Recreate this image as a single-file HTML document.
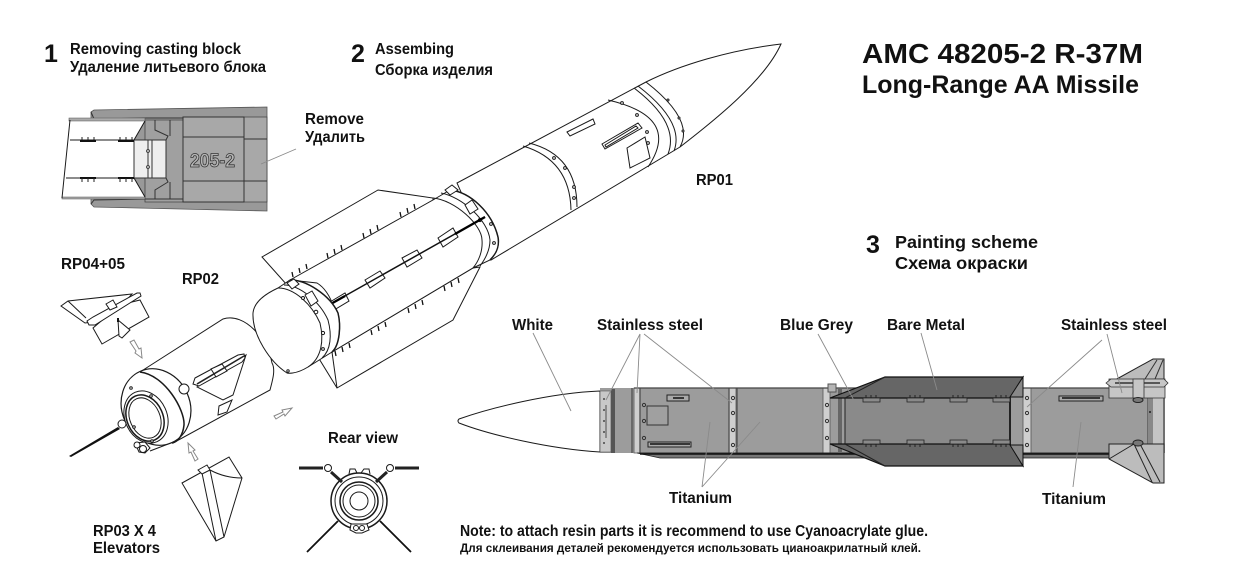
<!DOCTYPE html>
<html><head><meta charset="utf-8"><style>
html,body{margin:0;padding:0;background:#fff;width:1241px;height:584px;overflow:hidden}
svg{display:block}
text{font-family:"Liberation Sans",sans-serif;font-weight:bold;fill:#111}
.l{fill:none;stroke:#1a1a1a;stroke-width:1}
.t{fill:none;stroke:#1a1a1a;stroke-width:1.5}
.w{fill:#fff;stroke:#1a1a1a;stroke-width:1}
.g{fill:none;stroke:#8a8a8a;stroke-width:.9}
.d{fill:none;stroke:#333;stroke-width:1}
</style></head><body>
<svg width="1241" height="584" viewBox="0 0 1241 584" xmlns="http://www.w3.org/2000/svg">
<defs>
<g id="tk"><path fill="none" stroke="#111" stroke-width="1.3" d="M1 0L0 -5M8 -4L7 -9M15 -8L14 -13"/></g>
<g id="tk2"><path fill="none" stroke="#111" stroke-width="1.3" d="M1 0L2 5M8 -4L9 1M15 -8L16 -3"/></g>
<g id="pt"><path d="M0 0H17V4H0Z" fill="#8a8a8a" stroke="#222" stroke-width=".8"/><path d="M3 0V-3M8 0V-3M13 0V-3" stroke="#222" fill="none"/></g>
<g id="pb"><path d="M0 0H17V-4H0Z" fill="#8a8a8a" stroke="#222" stroke-width=".8"/><path d="M3 0V3M8 0V3M13 0V3" stroke="#222" fill="none"/></g>
</defs>

<!-- block 1 -->
<path d="M91 112L94 110L267 107V211L94 207L91 204Z" fill="#999" stroke="#555" stroke-width=".8"/>
<path d="M145 120H183V202H145Z" fill="#a0a0a0" stroke="#444" stroke-width=".8"/>
<path d="M183 117H267V202H183Z" fill="#a8a8a8" stroke="#444" stroke-width=".8"/>
<path d="M183 117H244V202H183ZM183 137H244M183 181H244M244 139H267M244 181H267" class="d"/>
<path d="M91 112L94 119L145 118H183M91 204L94 200L145 199H183" class="d"/>
<path d="M69 118L145 120L134 140L134 178L145 197H62Z" fill="#fff" stroke="none"/>
<path d="M69 118H145V121H69ZM62 197H145V199H62Z" fill="#aaa" stroke="#555" stroke-width=".6"/>
<path class="l" d="M70 120L62 198M70 140H134M66 178H134M145 121L134 140M145 197L134 178"/>
<path d="M134 140H166V178H134Z" fill="#eee" stroke="#333"/>
<path d="M148 140V178M152 140V178" class="d"/>
<circle cx="148" cy="151" r="1.4" fill="#fff" stroke="#333"/><circle cx="148" cy="167" r="1.4" fill="#fff" stroke="#333"/>
<path d="M155 120V130L168 136L166 140V178L168 182L155 190V199M170 120V136M170 182V199" class="d"/>
<path d="M80 141H96M118 141H134M80 178H96M118 178H134" stroke="#111" stroke-width="2" fill="none"/>
<path d="M82 140V137M88 140V137M94 140V137M120 140V137M126 140V137M132 140V137M82 178V182M88 178V182M94 178V182M120 178V182M126 178V182M132 178V182" stroke="#222" fill="none"/>
<text x="190" y="167" font-size="19" textLength="45" lengthAdjust="spacingAndGlyphs" style="fill:#b5b5b5;stroke:#333;stroke-width:.8">205-2</text>
<path class="g" d="M296 149L261 164"/>

<!-- rear section -->
<path class="w" d="M140 372L223 319C245 312 268 340 272 363C276 370 272 382 270 390L173 443Z"/>
<ellipse cx="156" cy="407" rx="39" ry="34" transform="rotate(66 156 407)" fill="#fff" stroke="#1a1a1a" stroke-width="1.2"/>
<path class="t" d="M140 372C165 375 185 410 184 425C183 435 178 442 172 443" stroke-width="2"/>
<ellipse cx="146" cy="417" rx="27" ry="21" transform="rotate(66 146 417)" class="w"/>
<ellipse cx="145" cy="418" rx="24" ry="18" transform="rotate(66 145 418)" class="t"/>
<ellipse cx="145" cy="418" rx="21" ry="15" transform="rotate(66 145 418)" class="l"/>
<circle cx="131" cy="388" r="1.3" class="w"/><circle cx="151" cy="396" r="1.3" class="w"/><circle cx="134" cy="427" r="1.3" class="w"/><circle cx="152" cy="441" r="1.3" class="w"/>
<circle cx="122" cy="424" r="4" class="w"/>
<path d="M118 427L69 456L71 457L120 429Z" fill="#111"/>
<path class="w" d="M135 443L145 442L150 448L145 453L139 452Z"/><circle cx="143" cy="449" r="3.5" class="w"/><circle cx="137" cy="445" r="3" class="w"/>
<path class="l" d="M150 451L176 441"/>
<circle cx="184" cy="389" r="5" class="w"/>
<path class="w" d="M197 387L246 355L233 395L223 400Z"/>
<path class="w" d="M195 378L238 355L244 354L245 358L242 362L199 386L193 384Z"/>
<path class="w" d="M211 369L222 364L227 371L216 377Z"/>
<path d="M197 384L244 356" stroke="#222" stroke-width="1.6"/>
<path class="w" d="M219 406L232 400L227 412L218 415Z"/>

<!-- upper missile -->
<path class="w" d="M781 44C730 50 680 65 646 82L457 183L491 260L680 147C715 120 765 80 781 44Z"/>
<path class="l" d="M646 82Q695 120 680 147" stroke-width="1.3"/>
<path class="l" d="M638 86Q685 122 674 151M634 88Q680 123 668 154" stroke-width="1.2"/>
<path class="l" d="M608 100Q682 117 648 167" stroke-width="1.3"/>
<path class="l" d="M529 143Q577 155 577 207" stroke-width="1.3"/>
<path class="l" d="M523 146Q570 160 571 210"/>
<path class="w" d="M567 132L593 119L595 124L570 136Z"/>
<path class="w" d="M602 144L638 123L642 128L605 149ZM605 145L636 126L638 128L606 147Z"/>
<path class="w" d="M627 148L645 137L650 158L630 168Z"/>
<circle cx="554" cy="158" r="1.4" class="w"/><circle cx="565" cy="168" r="1.4" class="w"/><circle cx="574" cy="187" r="1.4" class="w"/><circle cx="574" cy="198" r="1.4" class="w"/>
<circle cx="622" cy="103" r="1.4" class="w"/><circle cx="637" cy="115" r="1.4" class="w"/><circle cx="647" cy="132" r="1.4" class="w"/><circle cx="648" cy="143" r="1.4" class="w"/><circle cx="668" cy="100" r="1" class="w"/><circle cx="679" cy="118" r="1" class="w"/><circle cx="683" cy="131" r="1" class="w"/>

<!-- fins -->
<path class="w" d="M378 190L262 257L287 285L433 200L433 198Z"/>
<path class="w" d="M480 267L453 320L337 388L318 357L332 352L473 268Z"/>
<path class="l" d="M332 352L337 388"/>
<!-- centre body -->
<path class="w" d="M290 280L433 200L450 190C470 192 492 212 498 237C500 248 495 255 490 260L473 268L332 352L338 340C340 320 332 292 317 283L290 280Z" stroke-width="1.2"/>
<path class="t" d="M450 190C470 192 492 212 498 237C500 248 495 255 490 260"/>
<path class="l" d="M433 198C455 200 482 225 482 240C483 252 478 262 473 268" stroke-width="1.3"/>
<path class="l" d="M441 193C462 197 488 220 490 240C490 250 486 258 480 266"/>
<path class="w" d="M445 190L452 185L458 190L450 195Z"/>
<path class="w" d="M465 205L472 200L478 209L470 214Z"/>
<circle cx="480" cy="220" r="1.6" class="w"/><circle cx="491" cy="224" r="1.4" class="w"/><circle cx="494" cy="243" r="1.4" class="w"/>
<path class="w" d="M330 302L345 293L349 301L334 310Z"/>
<path class="w" d="M365 280L380 271L385 278L370 288Z"/>
<path class="w" d="M402 258L417 250L422 258L407 267Z"/>
<path class="w" d="M438 238L453 228L458 237L443 247Z"/>
<path d="M320 310L485 217" stroke="#111" stroke-width="1.5"/>
<path d="M320 310L345 296M455 234L485 217" stroke="#000" stroke-width="2.4"/>
<use href="#tk" x="400" y="217"/><use href="#tk" x="363" y="238"/><use href="#tk" x="327" y="258"/><use href="#tk" x="292" y="277"/>
<use href="#tk2" x="443" y="286"/><use href="#tk2" x="407" y="308"/><use href="#tk2" x="370" y="330"/><use href="#tk2" x="334" y="351"/>
<!-- rear ring + dome -->
<path class="w" d="M278 288L290 280C305 279 330 295 338 313C341 325 340 345 332 352L308 367C295 375 287 373 287 373C270 362 252 335 253 313C254 302 265 294 278 288Z" stroke-width="1.3"/>
<path class="t" d="M290 280C305 279 330 295 338 313C341 325 340 345 332 352"/>
<path class="l" d="M278 288C295 288 312 305 320 323C324 340 322 358 308 367" stroke-width="1.2"/>
<path class="l" d="M284 285C300 285 320 302 328 320C332 335 331 350 322 358"/>
<path class="w" d="M287 283L294 279L299 284L292 289Z"/><path class="w" d="M305 295L312 291L318 301L311 306Z"/>
<circle cx="303" cy="298" r="1.5" class="w"/><circle cx="316" cy="312" r="1.8" class="w"/><circle cx="323" cy="333" r="1.6" class="w"/><circle cx="323" cy="349" r="1.4" class="w"/><circle cx="288" cy="371" r="1.2" class="w"/>

<!-- RP04 -->
<path class="w" d="M61 306L68 301L132 294L109 320L85 323Z"/>
<path class="w" d="M93 328L102 344L149 317L140 300L120 305Z"/>
<path class="w" d="M118 320L130 330L122 338L119 336Z"/>
<path class="w" d="M87 321L93 317L137 293L140 293L141 296L95 325L89 325Z"/>
<path class="l" d="M68 301L86 318"/><path d="M118 318V322" stroke="#111" stroke-width="2"/>
<path class="w" d="M106 304L113 300L117 307L110 310Z"/>
<!-- arrows -->
<path fill="#fff" stroke="#888" d="M130 342L134 340L139 349L141 348L142 358L135 353L136 351Z"/>
<path fill="#fff" stroke="#888" d="M195 461L198 459L193 451L195 450L188 443L189 453L191 452Z"/>
<path fill="#fff" stroke="#888" d="M274 416L276 419L284 414L285 416L292 408L282 410L283 412Z"/>
<!-- RP03 -->
<path class="w" d="M182 483L229 457L242 478L224 537L216 541Z"/>
<path class="l" d="M202 473L216 541M210 470L224 537M210 470Q225 478 242 478"/>
<path class="w" d="M198 470L207 465L210 470L202 474Z"/>

<!-- rear view -->
<circle cx="359" cy="501" r="28" class="t"/>
<circle cx="359" cy="501" r="24" class="l"/><circle cx="359" cy="501" r="19" class="t"/><circle cx="359" cy="501" r="16" class="l"/><circle cx="359" cy="501" r="9" class="l"/>
<path class="l" d="M349 474L350 469H355L357 473M361 473L364 469H369L370 474"/>
<path d="M299 468H323M395 468H419" stroke="#222" stroke-width="3" fill="none"/>
<circle cx="328" cy="468" r="3.5" class="w"/><circle cx="390" cy="468" r="3.5" class="w"/>
<path d="M331 472L342 482M387 472L376 482" stroke="#222" stroke-width="3"/>
<path d="M307 552L338 521M411 552L380 521" stroke="#111" stroke-width="1.8"/>
<path class="w" d="M351 524H367L369 530L362 533H356L350 530Z"/><circle cx="356" cy="528" r="2.5" class="w"/><circle cx="362" cy="528" r="2.5" class="w"/>

<!-- lower missile -->
<path class="w" d="M600 391C550 393 490 408 459 419Q457 421 459 423C490 435 550 449 600 452Z" stroke-width="1.1"/>
<path d="M600 388H1165V453H600Z" fill="#9c9c9c"/>
<path d="M600 391H611V452H600Z" fill="#c8c8c8" stroke="#444" stroke-width=".6"/>
<path d="M611 389H615V453H611Z" fill="#555"/>
<path d="M634 388H640V453H634ZM729 388H736V453H729ZM823 388H830V453H823ZM1023 388H1031V453H1023Z" fill="#cfcfcf" stroke="#555" stroke-width=".8"/>
<path d="M632 388V453M640 388V453M729 388V453M737 388V453M1148 388V453" stroke="#555" stroke-width="1.4" fill="none"/>
<path d="M634 388H1148" stroke="#444" stroke-width="1.3"/>
<path d="M640 453H1148" stroke="#444"/>
<path d="M637 453L660 458H1110V453H637Z" fill="#777" stroke="#222" stroke-width=".8"/>
<path d="M640 454H1110" stroke="#111" stroke-width="1.4"/>
<path d="M1153 389H1163V453H1153Z" fill="#c4c4c4"/><path d="M1148 389H1153V453H1148Z" fill="#888"/><path d="M1164 389V453" stroke="#444" stroke-width="1"/>
<path d="M647 406H668V425H647Z" fill="#a0a0a0" stroke="#333" stroke-width="1"/>
<path d="M667 395H689V401H667ZM648 442H691V447H648ZM1059 396H1103V401H1059Z" fill="#aaa" stroke="#222" stroke-width="1"/>
<path d="M673 398H684M650 444H690M1062 398H1100" stroke="#111" stroke-width="1.4"/>
<g fill="none" stroke="#333"><circle cx="644" cy="405" r="1.6"/><circle cx="644" cy="421" r="1.6"/><circle cx="644" cy="438" r="1.6"/><circle cx="733" cy="398" r="1.6"/><circle cx="733" cy="413" r="1.6"/><circle cx="733" cy="430" r="1.6"/><circle cx="733" cy="445" r="1.6"/><circle cx="827" cy="405" r="1.6"/><circle cx="827" cy="421" r="1.6"/><circle cx="827" cy="438" r="1.6"/><circle cx="1027" cy="398" r="1.6"/><circle cx="1027" cy="413" r="1.6"/><circle cx="1027" cy="430" r="1.6"/><circle cx="1027" cy="445" r="1.6"/></g>
<path d="M606 405V438" stroke="#777" stroke-width="1.5"/>
<g fill="#222"><circle cx="604" cy="399" r=".9"/><circle cx="604" cy="410" r=".9"/><circle cx="604" cy="421" r=".9"/><circle cx="604" cy="432" r=".9"/><circle cx="604" cy="443" r=".9"/><circle cx="1150" cy="412" r="1"/></g>
<path d="M828 384H836V392H828Z" fill="#b5b5b5" stroke="#555"/>
<!-- dark section -->
<path d="M845 398H1010V445H845Z" fill="#8a8a8a" stroke="#222" stroke-width="1"/>
<path d="M840 389V453" stroke="#666" stroke-width="4"/>
<path d="M1010 398V445" stroke="#222" stroke-width="2"/>
<path d="M830 398L885 377H1023L1010 398Z" fill="#666" stroke="#111" stroke-width="1.2"/>
<path d="M1023 377V397H1010Z" fill="#888" stroke="#111" stroke-width="1"/>
<path d="M830 444L885 466H1023L1010 444Z" fill="#666" stroke="#111" stroke-width="1.2"/>
<path d="M1023 466V445H1010Z" fill="#888" stroke="#111" stroke-width="1"/>
<path d="M845 398L885 377M845 444L885 466" stroke="#222" fill="none"/>
<use href="#pt" x="863" y="398"/><use href="#pt" x="907" y="398"/><use href="#pt" x="950" y="398"/><use href="#pt" x="993" y="398"/>
<use href="#pb" x="863" y="444"/><use href="#pb" x="907" y="444"/><use href="#pb" x="950" y="444"/><use href="#pb" x="993" y="444"/>
<!-- tail fins -->
<path d="M1109 398V379H1165V398Z" fill="#c6c6c6" stroke="#333" stroke-width=".8"/>
<path d="M1115 380L1153 359H1164V379Z" fill="#bcbcbc" stroke="#222" stroke-width="1"/>
<path d="M1145 379L1157 360M1155 379L1163 360" stroke="#333" fill="none"/>
<path d="M1106 383L1111 379H1164L1168 383L1164 387H1111Z" fill="#c6c6c6" stroke="#333" stroke-width=".8"/>
<path d="M1115 383H1160" stroke="#333" stroke-width="1.5"/>
<path d="M1133 379H1144V398H1133Z" fill="#c6c6c6" stroke="#333" stroke-width=".8"/>
<ellipse cx="1138" cy="400" rx="5" ry="2.5" fill="#777" stroke="#222"/>
<path d="M1109 444H1164V483H1153L1109 459Z" fill="#bcbcbc" stroke="#222" stroke-width="1"/>
<path d="M1134 444L1152 482M1140 444L1160 482M1109 459L1134 444" stroke="#222" fill="none"/>
<ellipse cx="1138" cy="443" rx="5" ry="3" fill="#777" stroke="#222"/>

<!-- leaders -->
<path class="g" d="M533 333L571 411M640 334L606 400M640 334L637 393M644 334L732 403M702 487L710 422M702 487L760 422M818 334L863 417M921 333L937 390M1102 340L1027 407M1107 334L1122 393M1073 487L1081 422"/>

<!-- text -->
<text x="44" y="62" font-size="25">1</text>
<text x="70" y="54" font-size="15.5" textLength="171" lengthAdjust="spacingAndGlyphs">Removing casting block</text>
<text x="70" y="72" font-size="15.5" textLength="196" lengthAdjust="spacingAndGlyphs">Удаление литьевого блока</text>
<text x="351" y="62" font-size="25">2</text>
<text x="375" y="54" font-size="15.5" textLength="79" lengthAdjust="spacingAndGlyphs">Assembing</text>
<text x="375" y="75" font-size="15.5" textLength="118" lengthAdjust="spacingAndGlyphs">Сборка изделия</text>
<text x="305" y="124" font-size="15.5" textLength="59" lengthAdjust="spacingAndGlyphs">Remove</text>
<text x="305" y="142" font-size="15.5" textLength="60" lengthAdjust="spacingAndGlyphs">Удалить</text>
<text x="862" y="63" font-size="28" textLength="281" lengthAdjust="spacingAndGlyphs">AMC 48205-2 R-37M</text>
<text x="862" y="93" font-size="25" textLength="277" lengthAdjust="spacingAndGlyphs">Long-Range AA Missile</text>
<text x="696" y="185" font-size="15.5" textLength="37" lengthAdjust="spacingAndGlyphs">RP01</text>
<text x="866" y="253" font-size="25">3</text>
<text x="895" y="248" font-size="17.5" textLength="143" lengthAdjust="spacingAndGlyphs">Painting scheme</text>
<text x="895" y="269" font-size="17.5" textLength="133" lengthAdjust="spacingAndGlyphs">Схема окраски</text>
<text x="61" y="269" font-size="15.5" textLength="64" lengthAdjust="spacingAndGlyphs">RP04+05</text>
<text x="182" y="284" font-size="15.5" textLength="37" lengthAdjust="spacingAndGlyphs">RP02</text>
<text x="512" y="330" font-size="15.5" textLength="41" lengthAdjust="spacingAndGlyphs">White</text>
<text x="597" y="330" font-size="15.5" textLength="106" lengthAdjust="spacingAndGlyphs">Stainless steel</text>
<text x="780" y="330" font-size="15.5" textLength="73" lengthAdjust="spacingAndGlyphs">Blue Grey</text>
<text x="887" y="330" font-size="15.5" textLength="78" lengthAdjust="spacingAndGlyphs">Bare Metal</text>
<text x="1061" y="330" font-size="15.5" textLength="106" lengthAdjust="spacingAndGlyphs">Stainless steel</text>
<text x="669" y="503" font-size="15.5" textLength="63" lengthAdjust="spacingAndGlyphs">Titanium</text>
<text x="1042" y="504" font-size="15.5" textLength="64" lengthAdjust="spacingAndGlyphs">Titanium</text>
<text x="328" y="443" font-size="15.5" textLength="70" lengthAdjust="spacingAndGlyphs">Rear view</text>
<text x="93" y="536" font-size="15.5" textLength="63" lengthAdjust="spacingAndGlyphs">RP03 X 4</text>
<text x="93" y="553" font-size="15.5" textLength="67" lengthAdjust="spacingAndGlyphs">Elevators</text>
<text x="460" y="536" font-size="15.5" textLength="468" lengthAdjust="spacingAndGlyphs">Note: to attach resin parts it is recommend to use Cyanoacrylate glue.</text>
<text x="460" y="552" font-size="12" textLength="461" lengthAdjust="spacingAndGlyphs">Для склеивания деталей рекомендуется использовать цианоакрилатный клей.</text>
</svg>
</body></html>
